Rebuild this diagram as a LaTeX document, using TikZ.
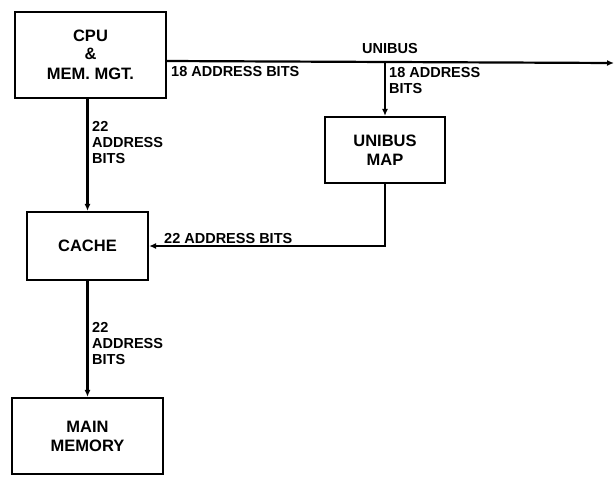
\documentclass[tikz,border=0pt]{standalone}
\usepackage{fontspec}
\setmainfont{Liberation Sans}
\usetikzlibrary{arrows.meta}
\begin{document}
\begin{tikzpicture}[x=1pt,y=1pt,
  blk/.style={draw,line width=2.2pt,rectangle,align=center,font=\bfseries\fontsize{16.5}{19}\selectfont},
  arr/.style={line width=2.2pt,-{Latex[length=7pt,width=6pt]}},
  lbl/.style={font=\bfseries\fontsize{14.5}{16}\selectfont,align=left,inner sep=0pt}]
\useasboundingbox (0,0) rectangle (615,-483);
\node[blk,minimum width=151,minimum height=86] (cpu) at (90.5,-55) {CPU\\[-1pt]\&\\[1pt]MEM. MGT.};
\node[blk,minimum width=120,minimum height=66] (map) at (385,-150) {UNIBUS\\MAP};
\node[blk,minimum width=121,minimum height=68] (cache) at (87.5,-246) {CACHE};
\node[blk,minimum width=151,minimum height=76] (mem) at (87.5,-436) {MAIN\\MEMORY};
\coordinate (busstart) at (cpu.east |- 0,-61);
\coordinate (busend) at (614,-63);
\coordinate (tap) at (map.north |- 0,-62);
\draw[arr] (busstart) -- (busend);
\draw[arr] (tap) -- (map.north);
\draw[arr] (map.south) |- (cache.east);
\draw[arr] (cpu.south -| cache.north) -- (cache.north);
\draw[arr] (cache.south) -- (mem.north);
\node[lbl,anchor=south] (ub) at (390,-54) {UNIBUS};
\node[lbl,anchor=west] (l1) at (171,-72) {18 ADDRESS BITS};
\node[lbl,anchor=north west] (l2) at (389,-67) {18 ADDRESS\\BITS};
\node[lbl,anchor=north west] (l3) at (92,-121) {22\\ADDRESS\\BITS};
\node[lbl,anchor=west] (l4) at (164,-239) {22 ADDRESS BITS};
\node[lbl,anchor=north west] (l5) at (92,-322) {22\\ADDRESS\\BITS};
\end{tikzpicture}
\end{document}
